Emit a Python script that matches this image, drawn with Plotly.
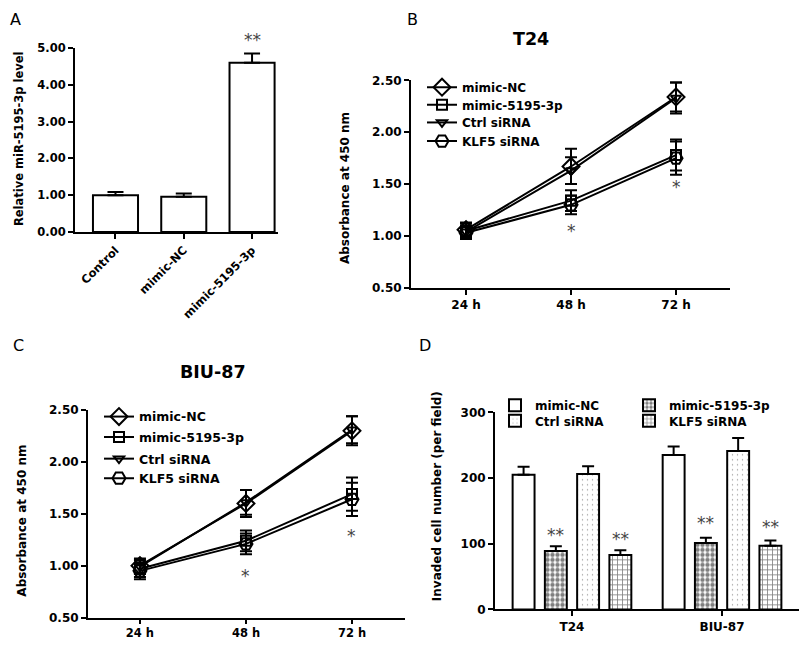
import plotly.graph_objects as go

W, H = 799, 648
FONT = "DejaVu Sans"

# ---------------- Panel A data ----------------
a_categories = ["Control", "mimic-NC", "mimic-5195-3p"]
a_values = [1.00, 0.96, 4.60]
a_errors = [0.09, 0.09, 0.25]
a_marks = ["", "", "**"]
a_mark_pos = [None, None, 5.33]

# ---------------- Panels B / C data ----------------
time_points = ["24 h", "48 h", "72 h"]
series_names = ["mimic-NC", "mimic-5195-3p", "Ctrl siRNA", "KLF5 siRNA"]

t24_mimic_nc = [1.06, 1.67, 2.34]
t24_mimic_nc_err = [0.07, 0.17, 0.14]
t24_mimic_5195 = [1.05, 1.34, 1.78]
t24_mimic_5195_err = [0.07, 0.10, 0.15]
t24_ctrl_sirna = [1.04, 1.63, 2.33]
t24_ctrl_sirna_err = [0.06, 0.13, 0.15]
t24_klf5_sirna = [1.03, 1.30, 1.75]
t24_klf5_sirna_err = [0.06, 0.09, 0.16]
t24_marks = ["", "*", "*"]
t24_mark_pos = [None, 1.085, 1.51]

biu_mimic_nc = [1.00, 1.60, 2.30]
biu_mimic_nc_err = [0.07, 0.13, 0.14]
biu_mimic_5195 = [0.97, 1.24, 1.69]
biu_mimic_5195_err = [0.08, 0.10, 0.16]
biu_ctrl_sirna = [0.99, 1.61, 2.31]
biu_ctrl_sirna_err = [0.07, 0.12, 0.13]
biu_klf5_sirna = [0.95, 1.21, 1.64]
biu_klf5_sirna_err = [0.08, 0.10, 0.16]
biu_marks = ["", "*", "*"]
biu_mark_pos = [None, 0.94, 1.32]

# ---------------- Panel D data ----------------
cell_lines = ["T24", "BIU-87"]
d_mimic_nc = [205, 235]
d_mimic_nc_err = [12, 13]
d_mimic_5195 = [89, 101]
d_mimic_5195_err = [7, 8]
d_ctrl_sirna = [206, 241]
d_ctrl_sirna_err = [12, 20]
d_klf5_sirna = [83, 97]
d_klf5_sirna_err = [7, 8]
d_marks = [["", ""], ["**", "**"], ["", ""], ["**", "**"]]
d_mark_pos = [[None, None], [120, 137], [None, None], [113, 132]]

# ---------------- style ----------------
symbols = ["diamond-open", "square-open", "triangle-down-open", "hexagon2-open"]
sym_sizes = [13, 10, 9, 13]
d_patterns = [
    dict(shape="", fgcolor="black", bgcolor="white"),
    dict(shape=".", fgcolor="black", bgcolor="white", size=5, solidity=0.6),
    dict(shape=".", fgcolor="#333", bgcolor="white", size=5, solidity=0.06),
    dict(shape="+", fgcolor="black", bgcolor="white", size=5, solidity=0.3),
]


def px_x(v):
    return v / W


def px_y(v):
    return 1 - v / H


fig = go.Figure()

# Panel A
fig.add_trace(go.Bar(
    x=a_categories, y=a_values, width=0.66,
    marker=dict(color="white", line=dict(color="black", width=2)),
    error_y=dict(type="data", array=a_errors, arrayminus=[0] * len(a_errors),
                 symmetric=False, color="black", thickness=2, width=8),
    xaxis="x", yaxis="y", showlegend=False,
))

legend_layouts = {}
legend_idx = [0]


def new_legend(xpx, ypx, size):
    legend_idx[0] += 1
    name = "legend" if legend_idx[0] == 1 else f"legend{legend_idx[0]}"
    legend_layouts[name] = dict(
        x=px_x(xpx), y=px_y(ypx), xanchor="left", yanchor="middle",
        bgcolor="rgba(0,0,0,0)", borderwidth=0, itemwidth=30,
        font=dict(family=FONT, size=size, color="black", weight="bold"),
    )
    return name


# Panels B and C
panel_series = [
    ("x2", "y2", [t24_mimic_nc, t24_mimic_5195, t24_ctrl_sirna, t24_klf5_sirna],
     [t24_mimic_nc_err, t24_mimic_5195_err, t24_ctrl_sirna_err, t24_klf5_sirna_err],
     422, [82, 100, 118, 137], 12),
    ("x3", "y3", [biu_mimic_nc, biu_mimic_5195, biu_ctrl_sirna, biu_klf5_sirna],
     [biu_mimic_nc_err, biu_mimic_5195_err, biu_ctrl_sirna_err, biu_klf5_sirna_err],
     99, [419, 440, 462, 482], 12.5),
]
for xa, ya, vals, errs, lx, lys, lsize in panel_series:
    for i, name in enumerate(series_names):
        fig.add_trace(go.Scatter(
            x=time_points, y=vals[i], name=name, mode="lines+markers",
            line=dict(color="black", width=2),
            marker=dict(symbol=symbols[i], size=sym_sizes[i], color="black",
                        line=dict(color="black", width=2)),
            error_y=dict(type="data", array=errs[i], color="black", thickness=2, width=6),
            xaxis=xa, yaxis=ya, legend=new_legend(lx, lys[i], lsize),
        ))

# Panel D
d_vals = [d_mimic_nc, d_mimic_5195, d_ctrl_sirna, d_klf5_sirna]
d_errs = [d_mimic_nc_err, d_mimic_5195_err, d_ctrl_sirna_err, d_klf5_sirna_err]
d_leg_pos = [(495, 407), (629, 407), (495, 423), (629, 423)]
for i, name in enumerate(series_names):
    fig.add_trace(go.Bar(
        x=cell_lines, y=d_vals[i], name=name,
        marker=dict(color="white", line=dict(color="black", width=2), pattern=d_patterns[i]),
        error_y=dict(type="data", array=d_errs[i], arrayminus=[0] * len(d_errs[i]),
                     symmetric=False, color="black", thickness=2, width=6),
        xaxis="x4", yaxis="y4", legend=new_legend(d_leg_pos[i][0], d_leg_pos[i][1], 12),
    ))

BARGAP = 0.14
BARGROUPGAP = 0.32

axis_common = dict(
    showline=True, linecolor="black", linewidth=2, mirror=False,
    ticks="outside", ticklen=5, tickwidth=2, tickcolor="black",
    showgrid=False, zeroline=False,
    tickfont=dict(family=FONT, size=12, color="black", weight="bold"),
)

A_Y0, A_Y1 = 230, 42
A_RANGE = [0, 5]

layout = dict(
    width=W, height=H, margin=dict(l=0, r=0, t=0, b=0),
    paper_bgcolor="white", plot_bgcolor="white",
    barmode="group", bargap=BARGAP, bargroupgap=BARGROUPGAP,
    font=dict(family=FONT, color="black"),
    xaxis=dict(axis_common, domain=[px_x(75), px_x(278)], anchor="y",
               type="category", range=[-0.593, 2.38], tickangle=-45,
               tickfont=dict(family=FONT, size=11.5, color="black", weight="bold")),
    yaxis=dict(axis_common, domain=[px_y(A_Y0), px_y(A_Y1)], anchor="x",
               range=A_RANGE, dtick=1, tickformat=".2f",
               tickfont=dict(family=FONT, size=11.5, color="black", weight="bold")),
    xaxis2=dict(axis_common, domain=[px_x(411), px_x(730)], anchor="y2",
                type="category", range=[-0.524, 2.514]),
    yaxis2=dict(axis_common, domain=[px_y(287), px_y(75)], anchor="x2",
                range=[0.5, 2.5], dtick=0.5, tickformat=".2f"),
    xaxis3=dict(axis_common, domain=[px_x(88), px_x(405)], anchor="y3",
                type="category", range=[-0.49, 2.5], ticklen=4,
                tickfont=dict(family=FONT, size=11.5, color="black", weight="bold")),
    yaxis3=dict(axis_common, domain=[px_y(624), px_y(412)], anchor="x3",
                range=[0.5, 2.5], dtick=0.5, tickformat=".2f"),
    xaxis4=dict(axis_common, domain=[px_x(495), 1.0], anchor="y4",
                type="category", range=[-0.513, 1.513]),
    yaxis4=dict(axis_common, domain=[px_y(615.7), px_y(414.3)], anchor="x4",
                range=[0, 300], dtick=100),
)
layout.update(legend_layouts)
fig.update_layout(**layout)

ann = []


def text_ann(text, xp, yp, font, angle=0):
    return dict(text=text, x=px_x(xp), y=px_y(yp), xref="paper", yref="paper",
                xanchor="center", yanchor="middle", textangle=angle,
                showarrow=False, font=font)


# panel letters
for letter, xp, yp in [("A", 15, 13), ("B", 412, 13), ("C", 18, 346), ("D", 425, 346)]:
    ann.append(text_ann(letter, xp, yp, dict(family=FONT, size=16, color="black")))
# panel titles
for t, xp, yp in [("T24", 531, 33), ("BIU-87", 213, 373)]:
    ann.append(text_ann(t, xp, yp, dict(family=FONT, size=17.5, color="black", weight="bold")))
# y-axis titles
for t, xp, yp, fs in [("Relative miR-5195-3p level", 19, 135, 11.5),
                      ("Absorbance at 450 nm", 345, 185, 12),
                      ("Absorbance at 450 nm", 22, 525, 12),
                      ("Invaded cell number (per field)", 437, 500, 12)]:
    ann.append(text_ann(t, xp, yp, dict(family=FONT, size=fs, color="black", weight="bold"), angle=-90))

STAR = dict(family=FONT, size=17, color="#444")
STAR_SHIFT = 4  # asterisk glyph sits high in its line box
# A significance (above the axis range -> place in paper coordinates via the axis scale)
a_scale = (A_Y0 - A_Y1) / (A_RANGE[1] - A_RANGE[0])
a_cat_px0, a_cat_step = 115.5, 68.3
for i, m in enumerate(a_marks):
    if m:
        ypx = A_Y0 - (a_mark_pos[i] - A_RANGE[0]) * a_scale + STAR_SHIFT
        ann.append(text_ann(m, a_cat_px0 + i * a_cat_step, ypx, STAR))
# B / C significance
for marks, pos, xr, yr in [(t24_marks, t24_mark_pos, "x2", "y2"), (biu_marks, biu_mark_pos, "x3", "y3")]:
    for i, m in enumerate(marks):
        if m:
            ann.append(dict(text=m, x=i, y=pos[i], xref=xr, yref=yr, yshift=-STAR_SHIFT,
                            xanchor="center", yanchor="middle", showarrow=False, font=STAR))
# D significance
n = len(series_names)
slot = (1 - BARGAP) / n
for s in range(n):
    for c in range(len(cell_lines)):
        m = d_marks[s][c]
        if m:
            xoff = c - (1 - BARGAP) / 2 + slot * (s + 0.5)
            ann.append(dict(text=m, x=xoff, y=d_mark_pos[s][c], xref="x4", yref="y4",
                            yshift=-STAR_SHIFT, xanchor="center", yanchor="middle",
                            showarrow=False, font=STAR))

fig.update_layout(annotations=ann)
fig.write_html(
    "out.html",
    config={"displayModeBar": False},
    post_script="document.body.style.margin='0';document.documentElement.style.overflow='hidden';",
)
